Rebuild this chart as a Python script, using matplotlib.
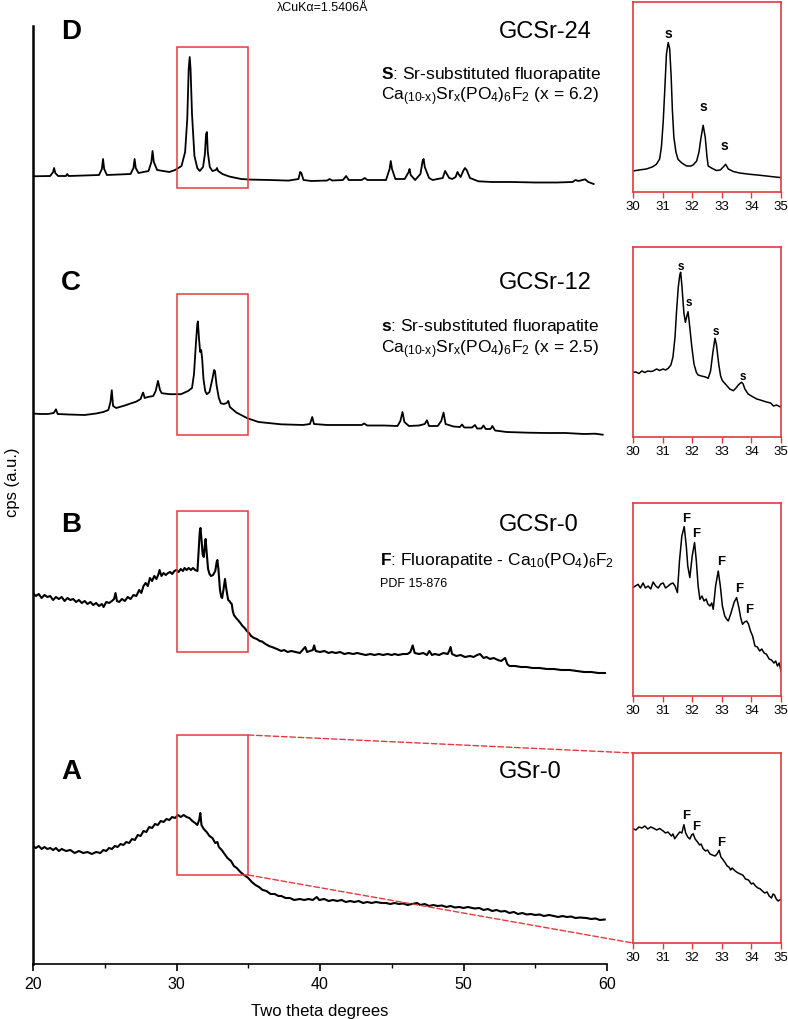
import matplotlib
matplotlib.use("Agg")
import matplotlib.pyplot as plt
from matplotlib.patches import Rectangle, ConnectionPatch

plt.rcParams['font.family'] = ['Liberation Sans', 'DejaVu Sans']
plt.rcParams['mathtext.fontset'] = 'custom'
plt.rcParams['mathtext.rm'] = 'Liberation Sans'
plt.rcParams['mathtext.it'] = 'Liberation Sans:italic'
plt.rcParams['mathtext.bf'] = 'Liberation Sans:bold'
plt.rcParams['mathtext.default'] = 'regular'

# ---- main patterns (2theta, stacked intensity a.u.) ----
d_tt = [20.0, 21.2, 21.4, 21.47, 21.55, 21.75, 22.3, 22.38, 22.48, 24.6, 24.8, 24.88, 24.96, 25.15,
        26.8, 27.0, 27.08, 27.16, 27.35, 28.05, 28.25, 28.33, 28.42, 28.65, 29.5, 29.9, 30.35, 30.6,
        30.75, 30.85, 30.92, 30.98, 31.08, 31.25, 31.45, 31.62, 31.85, 31.98, 32.06, 32.12, 32.18,
        32.32, 32.5, 32.75, 32.82, 32.9, 33.2, 33.7, 34.5, 35.2, 36.5, 37.8, 38.5, 38.62, 38.7, 38.85,
        39.4, 40.5, 40.67, 40.85, 41.6, 41.82, 42.0, 42.9, 43.12, 43.3, 44.6, 44.85, 44.93, 45.02,
        45.25, 45.9, 46.18, 46.24, 46.32, 46.63, 47.0, 47.15, 47.22, 47.3, 47.6, 47.85, 48.55, 48.72,
        48.8, 49.0, 49.22, 49.45, 49.58, 49.65, 49.8, 49.98, 50.1, 50.22, 50.45, 51.04, 52.0, 53.37,
        55.0, 56.5, 57.6, 57.8, 58.0, 58.3, 58.47, 58.7, 59.07]
d_int = [787.7, 788, 792, 796, 791, 788, 788, 790, 788, 789, 795, 805, 795, 789,
         790, 796, 805, 796, 791, 793, 802, 813, 802, 794, 792, 794, 798, 812,
         845, 895, 907, 895, 850, 808, 796, 793, 797, 810, 830, 832, 812,
         797, 793, 794, 796, 793, 790, 787.4, 785, 784.4, 784, 783.4, 785, 792, 791, 784,
         783, 783.5, 785, 783.5, 784, 788, 784, 784, 786, 784, 784, 795, 803, 795,
         785, 785, 792, 795, 789, 784, 790, 803, 805, 797, 786, 784, 786, 793,
         791, 786, 785, 787, 792, 790, 787, 793, 796, 794, 786, 782.7, 782, 782,
         781.5, 781.5, 782, 784, 783, 784, 784.7, 782, 780]

c_tt = [20.0, 20.6, 21.03, 21.45, 21.6, 21.72, 22.5, 23.6, 24.4, 24.9, 25.25, 25.4, 25.49, 25.58,
        25.8, 26.44, 26.9, 27.2, 27.5, 27.62, 27.68, 27.78, 28.0, 28.38, 28.55, 28.71, 28.85, 28.97,
        29.54, 30.31, 30.82, 31.08, 31.22, 31.35, 31.45, 31.49, 31.57, 31.65, 31.72, 31.79, 31.88,
        32.0, 32.11, 32.3, 32.5, 32.62, 32.68, 32.8, 32.95, 33.09, 33.3, 33.5, 33.61, 33.72, 34.18,
        34.95, 35.72, 37.27, 38.81, 39.3, 39.46, 39.58, 40.5, 41.65, 42.9, 43.07, 43.3, 44.48, 45.4,
        45.6, 45.75, 45.88, 46.2, 46.9, 47.3, 47.45, 47.6, 48.2, 48.45, 48.61, 48.75, 49.3, 49.75,
        49.9, 50.05, 50.6, 50.8, 50.95, 51.25, 51.39, 51.55, 51.88, 52.01, 52.2, 53.0, 54.54, 55.8,
        57.11, 58.4, 59.18, 59.7]
c_int = [550.4, 550, 550, 551, 554.7, 550, 549.5, 549, 550.5, 552, 554, 562, 573.8, 558,
         556, 558.7, 561, 562.4, 565, 570, 571.4, 566, 567, 568, 573, 583.1, 574, 570.8,
         569.8, 569.8, 573.1, 576, 590, 620, 640, 642.6, 625, 612, 614, 605, 585,
         573, 569.8, 572, 585, 594, 593, 578, 566, 560.7, 560, 561, 563.1, 557, 551.4,
         545.7, 542, 539.7, 539, 540, 547, 540, 539, 539, 539, 540.5, 538.5, 538.5, 538,
         543, 552, 542, 538, 538.5, 540, 543.7, 538, 538, 543, 551.4, 540, 537.5, 537,
         539.5, 536.5, 536.5, 539, 535.5, 535.5, 538.5, 535, 535, 538, 533.5, 532, 531.3, 531,
         531, 530, 530.3, 529.3]

b_tt = [20.0, 20.2, 20.4, 20.6, 20.8, 21.0, 21.2, 21.4, 21.6, 21.8, 22.0, 22.2, 22.4, 22.6, 22.8,
        23.0, 23.2, 23.4, 23.6, 23.8, 24.0, 24.2, 24.4, 24.6, 24.8, 24.92, 25.1, 25.3, 25.5, 25.65,
        25.75, 25.85, 26.0, 26.2, 26.4, 26.6, 26.8, 27.0, 27.2, 27.4, 27.55, 27.7, 27.85, 28.0, 28.15,
        28.3, 28.45, 28.6, 28.75, 28.82, 28.95, 29.1, 29.25, 29.41, 29.55, 29.7, 29.85, 30.0, 30.15,
        30.3, 30.45, 30.56, 30.7, 30.85, 31.0, 31.15, 31.3, 31.46, 31.55, 31.62, 31.67, 31.74, 31.82,
        31.9, 31.97, 32.03, 32.1, 32.2, 32.3, 32.4, 32.55, 32.7, 32.8, 32.85, 32.92, 33.03, 33.12,
        33.18, 33.28, 33.38, 33.46, 33.6, 33.69, 33.78, 33.85, 33.92, 34.0, 34.15, 34.28, 34.45, 34.6,
        34.75, 34.9, 35.05, 35.2, 35.4, 35.6, 35.8, 35.95, 36.2, 36.45, 36.72, 37.0, 37.3, 37.5, 37.74,
        38.0, 38.3, 38.6, 38.85, 38.97, 39.1, 39.3, 39.5, 39.59, 39.7, 40.0, 40.3, 40.6, 40.82, 41.1,
        41.4, 41.7, 42.0, 42.3, 42.6, 42.87, 43.2, 43.5, 43.8, 44.1, 44.4, 44.7, 45.0, 45.2, 45.44,
        45.8, 46.1, 46.3, 46.46, 46.6, 46.9, 47.2, 47.45, 47.62, 47.8, 48.0, 48.3, 48.6, 48.9, 49.0,
        49.1, 49.2, 49.5, 49.8, 50.1, 50.45, 50.7, 50.95, 51.15, 51.4, 51.6, 51.85, 52.1, 52.4, 52.62,
        52.9, 53.05, 53.2, 53.6, 54.0, 54.4, 54.8, 55.3, 55.8, 56.3, 56.8, 57.4, 57.9, 58.4, 58.9,
        59.4, 59.86]
b_int = [371, 368, 370, 366, 369, 367, 368, 364, 367, 365, 367, 363, 366, 364, 365,
         362, 364, 361, 363, 360, 362, 359, 361, 358, 360, 357, 362, 361, 363, 365,
         371, 363, 362, 365, 363, 367, 365, 369, 368, 374, 371, 378, 381, 378, 386,
         383, 388, 385, 390, 394, 388, 391, 389, 391, 392, 390, 393, 394, 392,
         395, 393, 396, 394, 396, 394, 396, 394, 393, 415, 432, 436, 425, 410,
         407, 418, 425, 412, 395, 390, 388, 389, 393, 402, 404, 395, 374, 367,
         366, 375, 385, 376, 364, 363, 361, 360, 353, 349, 346, 344, 341, 338,
         336, 333, 331, 328, 326, 325, 323, 322.6, 320, 318, 316.6, 315, 313, 314, 312,
         313, 312, 311, 315, 317, 312, 313, 314, 318.6, 313, 312, 313, 311, 312, 311,
         312, 310, 311, 310, 311, 310, 309, 310, 309, 310, 309, 310, 309, 310, 309,
         310, 310, 312, 318.6, 311, 310, 311, 309, 313, 309, 310, 309, 311, 310, 313,
         317, 310, 308, 309, 307, 308, 307, 309, 310, 306, 307, 305, 306, 304, 303,
         306, 300, 298, 298, 297, 297, 296, 296, 295, 295, 294, 294, 293, 292, 292,
         291, 291]

a_tt = [20.0, 20.2, 20.4, 20.6, 20.8, 21.0, 21.2, 21.4, 21.6, 21.8, 22.0, 22.3, 22.6, 22.9, 23.2,
        23.5, 23.8, 24.1, 24.4, 24.7, 24.9, 25.1, 25.3, 25.5, 25.7, 25.9, 26.1, 26.3, 26.5, 26.7,
        26.9, 27.1, 27.3, 27.5, 27.7, 27.9, 28.1, 28.3, 28.5, 28.7, 28.9, 29.1, 29.3, 29.5, 29.7,
        29.9, 30.1, 30.3, 30.5, 30.7, 30.9, 31.1, 31.3, 31.45, 31.58, 31.66, 31.74, 31.9, 32.1, 32.3,
        32.5, 32.7, 32.85, 32.95, 33.15, 33.35, 33.55, 33.8, 34.0, 34.2, 34.45, 34.7, 35.0, 35.25,
        35.5, 35.75, 36.0, 36.27, 36.55, 36.85, 37.1, 37.31, 37.6, 37.9, 38.2, 38.6, 38.9, 39.2,
        39.5, 39.77, 39.95, 40.3, 40.6, 40.9, 41.2, 41.5, 41.8, 42.1, 42.4, 42.7, 43.0, 43.3, 43.6,
        43.9, 44.3, 44.6, 44.9, 45.2, 45.5, 45.8, 46.1, 46.4, 46.76, 47.0, 47.3, 47.6, 47.9, 48.19,
        48.5, 48.8, 49.1, 49.4, 49.7, 50.0, 50.3, 50.78, 51.1, 51.4, 51.7, 52.0, 52.3, 52.6, 52.9,
        53.2, 53.5, 53.8, 54.1, 54.4, 54.7, 55.0, 55.3, 55.6, 55.96, 56.3, 56.6, 56.9, 57.2, 57.5,
        57.8, 58.1, 58.55, 58.9, 59.2, 59.5, 59.84]
a_int = [118, 116, 118, 115, 117, 115, 116, 114, 116, 113, 115, 113, 114, 111, 113,
         111, 112, 110, 112, 111, 114, 113, 116, 115, 118, 117, 120, 119, 122, 121,
         125, 124, 129, 128, 133, 132, 137, 136, 140, 139, 143, 142, 145, 144, 147,
         146, 149, 147, 149, 147, 146, 143, 141, 139, 144, 151, 139, 135, 132, 128,
         126, 121, 122, 117, 114, 110, 106, 103, 98, 96, 92, 89, 86, 82,
         79, 77, 74, 73, 70, 70, 68, 68, 66, 66, 64, 65, 64, 65,
         64, 67, 64, 65, 63, 64, 63, 64, 62, 63, 62, 63, 61, 62, 61,
         62, 61, 61, 60, 61, 60, 60.5, 59, 60, 61, 59, 60, 58, 59, 58,
         58.5, 57, 58, 56.5, 57, 56, 57, 55.5, 56, 54, 55, 53, 54, 52.5, 53,
         51, 52, 50, 51, 49.5, 50, 49, 49.5, 48, 49, 48, 47, 48, 47, 47.5,
         46, 46.5, 46, 45, 45.5, 44, 44.5]

# ---- zoomed 30-35 windows (intensity in own inset units) ----
zd_tt = [30.0, 30.2, 30.45, 30.65, 30.79, 30.9, 30.96, 31.02, 31.07, 31.13, 31.19, 31.24, 31.29,
         31.33, 31.38, 31.45, 31.52, 31.65, 31.81, 31.95, 32.03, 32.15, 32.23, 32.29, 32.37, 32.44,
         32.5, 32.54, 32.65, 32.82, 32.95, 33.05, 33.13, 33.22, 33.39, 33.6, 33.95, 34.2, 34.51,
         34.8, 35.0]
zd_int = [21, 22, 23, 25, 27.7, 33, 45, 70, 100, 138, 149.4, 143, 115,
          82, 55, 40, 32.7, 29, 26, 26, 27, 31, 40, 53, 66.7, 55,
          35, 26, 24, 21.5, 22, 25, 27.7, 23, 20.5, 19, 17.7, 17, 16,
          15, 14.4]

zc_tt = [30.0, 30.1, 30.2, 30.3, 30.4, 30.5, 30.6, 30.68, 30.8, 30.9, 31.02, 31.1, 31.19, 31.28,
         31.35, 31.42, 31.47, 31.53, 31.58, 31.61, 31.65, 31.72, 31.77, 31.82, 31.86, 31.9, 31.98,
         32.06, 32.14, 32.2, 32.31, 32.45, 32.54, 32.62, 32.7, 32.77, 32.82, 32.9, 32.96, 33.02,
         33.15, 33.27, 33.39, 33.48, 33.56, 33.63, 33.67, 33.72, 33.78, 33.89, 34.0, 34.18, 34.3,
         34.51, 34.65, 34.75, 34.85, 34.95, 35.0]
zc_int = [64.7, 65, 63.5, 66, 64.5, 66, 65.5, 66, 68, 66.5, 68, 67, 68.7, 72,
          80, 100, 125, 150, 162, 164.7, 152, 124, 114.7, 121, 125.3, 115, 92,
          73, 64.7, 62, 61, 60, 58.7, 66, 85, 98.7, 92, 72, 61, 56.3,
          52, 48, 46.3, 49, 52, 54, 54.7, 53, 48, 43, 41, 38, 37,
          35, 34, 31, 32, 30.5, 29.7]

zb_tt = [30.0, 30.08, 30.17, 30.25, 30.34, 30.42, 30.51, 30.6, 30.68, 30.77, 30.85, 30.94, 31.02,
         31.1, 31.19, 31.27, 31.35, 31.42, 31.5, 31.57, 31.65, 31.73, 31.8, 31.85, 31.92, 32.0, 32.08,
         32.14, 32.2, 32.26, 32.33, 32.4, 32.47, 32.53, 32.6, 32.66, 32.71, 32.79, 32.88, 32.95,
         33.02, 33.1, 33.16, 33.22, 33.3, 33.42, 33.5, 33.58, 33.64, 33.7, 33.77, 33.84, 33.9, 33.97,
         34.04, 34.12, 34.2, 34.28, 34.35, 34.43, 34.51, 34.6, 34.68, 34.76, 34.82, 34.88, 34.94, 35.0]
zb_int = [108.4, 110, 111.7, 108, 113, 108, 110, 107, 114, 110, 108, 112, 113,
          108, 110, 112, 113, 110, 103.4, 135, 160, 169.4, 150, 130, 118.4, 140, 153.4,
          135, 110, 96.7, 100, 95, 97, 92, 90, 93, 86.7, 110, 125, 110,
          90, 80, 77, 75, 82, 94, 98.4, 88, 78, 71.7, 74, 75, 72, 65,
          60, 50, 49, 45, 47, 43, 41.7, 37, 36, 33, 35, 30, 33, 25]

za_tt = [30.0, 30.1, 30.2, 30.3, 30.4, 30.5, 30.6, 30.68, 30.8, 30.9, 31.02, 31.1, 31.18, 31.24,
         31.3, 31.35, 31.41, 31.5, 31.58, 31.65, 31.72, 31.78, 31.85, 31.92, 31.98, 32.03, 32.1,
         32.18, 32.25, 32.3, 32.37, 32.45, 32.52, 32.6, 32.68, 32.77, 32.84, 32.91, 32.97, 33.05,
         33.12, 33.18, 33.24, 33.3, 33.35, 33.45, 33.55, 33.63, 33.72, 33.8, 33.9, 34.0, 34.06,
         34.14, 34.22, 34.29, 34.37, 34.45, 34.53, 34.6, 34.68, 34.73, 34.78, 34.84, 34.9, 34.95, 35.0]
za_int = [114.3, 113, 116, 115, 117, 114, 116, 115, 113, 114.5, 112, 110, 111, 109,
          107, 109, 104.3, 108, 111, 110, 118.3, 110, 106, 104, 108, 109.3, 104,
          101, 98, 99, 94.3, 92, 93, 89, 88, 87, 89, 92.7, 86, 83,
          80, 77, 76, 73, 75, 72, 70, 69, 67.6, 64, 63, 59, 60,
          57, 55, 54.3, 52, 50, 51, 47, 45, 49, 48, 44, 42, 43, 43.6]

# peak letters in the zoom windows
zd_lab = ("s", [31.19, 32.37, 33.1], [159, 86, 47])
zc_lab = ("s", [31.63, 31.89, 32.79, 33.72], [171, 135, 106, 61])
zb_lab = ("F", [31.78, 32.14, 32.97, 33.58, 33.93], [178, 163, 135, 108, 87])
za_lab = ("F", [31.79, 32.12, 32.99], [128, 117, 101])

W, H = 788, 1020
RED = '#e23a3f'
fig = plt.figure(figsize=(W / 100, H / 100), dpi=100)


def box(x0, y0, x1, y1):
    # pixel box -> figure fraction rect
    return [x0 / W, 1 - y1 / H, (x1 - x0) / W, (y1 - y0) / H]


def ftext(x, y, s, **kw):
    fig.text(x / W, 1 - y / H, s, **kw)


ax = fig.add_axes(box(33, 27, 607, 965))
for tt, yy, lw in [(d_tt, d_int, 1.3), (c_tt, c_int, 1.3), (b_tt, b_int, 1.5), (a_tt, a_int, 1.5)]:
    ax.plot(tt, yy, color='black', lw=lw)
ax.set_xlim(20, 60)
ax.set_ylim(0, 938)
ax.spines['top'].set_visible(False)
ax.spines['right'].set_visible(False)
ax.spines['left'].set_linewidth(1.8)
ax.spines['bottom'].set_linewidth(1.2)
ax.set_yticks([])
ax.set_xticks([20, 30, 40, 50, 60])
ax.set_xticks([25, 35, 45, 55], minor=True)
ax.tick_params(axis='x', which='major', length=5, width=1.2, labelsize=11.5, pad=4)
ax.tick_params(axis='x', which='minor', length=3, width=1.0)
ax.set_xlabel('Two theta degrees', fontsize=12, labelpad=8)
ax.set_ylabel('cps (a.u.)', fontsize=12, labelpad=6)
ax.yaxis.set_label_coords(-0.022, 0.515)

# 30-35 windows on the main patterns
rects = [(776, 917), (529, 670), (312, 453), (89, 229)]
for lo, hi in rects:
    ax.add_patch(Rectangle((30, lo), 5, hi - lo, fill=False, ec=RED, lw=1.1, zorder=3))

insets = [(3, 193, zd_tt, zd_int, zd_lab, 10),
          (248, 438, zc_tt, zc_int, zc_lab, 8.5),
          (504, 697, zb_tt, zb_int, zb_lab, 9.5),
          (754, 944, za_tt, za_int, za_lab, 9.5)]
inset_axes = []
for top, bot, tt, yy, lab, fs in insets:
    ia = fig.add_axes(box(633, top, 781, bot))
    ia.plot(tt, yy, color='black', lw=1.1)
    ia.set_xlim(30, 35)
    ia.set_ylim(0, bot - top)
    ia.set_yticks([])
    ia.set_xticks([30, 31, 32, 33, 34, 35])
    ia.tick_params(axis='x', length=4, width=1, color=RED, labelsize=9.5, pad=2)
    for sp in ia.spines.values():
        sp.set_color(RED)
        sp.set_linewidth(1.2)
    letter, lx, ly = lab
    for x, y in zip(lx, ly):
        ia.text(x, y, letter, ha='center', va='center', fontsize=fs, fontweight='bold')
    inset_axes.append(ia)

# dashed zoom lines from A window to its inset
iaA = inset_axes[3]
for ya, yb in [(229, 1), (89, 0)]:
    con = ConnectionPatch(xyA=(35, ya), coordsA=ax.transData, xyB=(0, yb), coordsB=iaA.transAxes,
                          color=RED, lw=1.0, ls=(0, (4, 2)))
    fig.add_artist(con)

# panel letters and sample names
for y, letter, name in [(32, 'D', 'GCSr-24'), (283, 'C', 'GCSr-12'), (525, 'B', 'GCSr-0'), (772, 'A', 'GSr-0')]:
    ftext(61, y, letter, fontsize=20, fontweight='bold', va='center', ha='left')
    ftext(499, y, name, fontsize=17, va='center', ha='left')

ftext(323, 8, 'λCuKα=1.5406Å', fontsize=9, ha='center', va='center')

ftext(381, 75, r'$\mathbf{S}$: Sr-substituted fluorapatite', fontsize=12.5, va='center')
ftext(381, 97, r'Ca$_{(10\text{-}x)}$Sr$_x$(PO$_4$)$_6$F$_2$ (x = 6.2)', fontsize=12.5, va='center')
ftext(381, 327, r'$\mathbf{s}$: Sr-substituted fluorapatite', fontsize=12.5, va='center')
ftext(381, 350, r'Ca$_{(10\text{-}x)}$Sr$_x$(PO$_4$)$_6$F$_2$ (x = 2.5)', fontsize=12.5, va='center')
ftext(380, 560, r'$\mathbf{F}$: Fluorapatite - Ca$_{10}$(PO$_4$)$_6$F$_2$', fontsize=12.5, va='center')
ftext(380, 584, 'PDF 15-876', fontsize=9, va='center')

fig.savefig('out.png', dpi=100)
